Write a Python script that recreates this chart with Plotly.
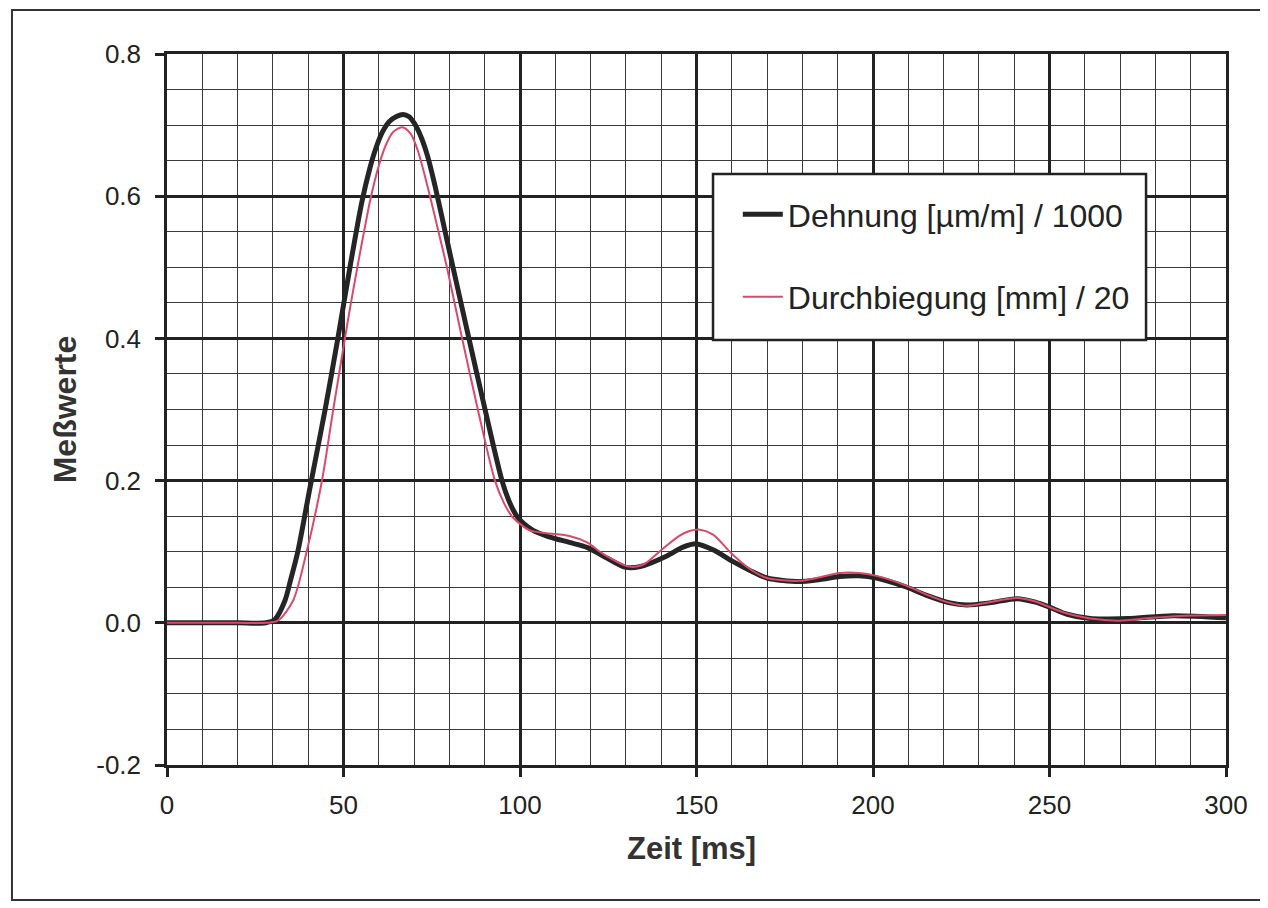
import plotly.graph_objects as go

# ---- data ----
t_dehnung = [0, 10, 20, 28, 30.6, 33.4, 35, 37.1, 40.5, 44.8, 48.4, 52, 55.2, 57.5, 59, 61, 63, 65, 66.9, 68.5,
             70, 72, 73.9, 75.9, 78.8, 80.7, 85.3, 90.1, 94.9, 97, 99.4, 103.7, 107.6, 114, 119, 125, 130, 134,
             141.6, 146, 150, 155, 160, 165, 170, 179, 185, 190.6, 196, 201, 209.6, 215, 221.8,
             226.6, 233, 240.8, 246, 250, 255, 261.5, 272, 285, 300]
dehnung = [0, 0, 0, 0, 0.005, 0.031, 0.06, 0.101, 0.19, 0.3, 0.4, 0.505, 0.592, 0.64, 0.665, 0.69, 0.705, 0.712, 0.715, 0.712,
           0.703, 0.683, 0.655, 0.615, 0.55, 0.507, 0.405, 0.3, 0.2, 0.17, 0.148, 0.13, 0.122, 0.113, 0.106, 0.09, 0.078, 0.079,
           0.094, 0.106, 0.111, 0.102, 0.087, 0.074, 0.063, 0.058, 0.061, 0.065, 0.066, 0.063, 0.05, 0.039, 0.028,
           0.025, 0.028, 0.034, 0.029, 0.022, 0.012, 0.006, 0.006, 0.01, 0.007]

t_durch = [0, 10, 20, 28, 31.4, 35.7, 39.6, 43.9, 47, 50.4, 52, 54, 56, 57.5, 60, 62, 64, 66.6, 69, 71,
           73.9, 77.3, 79.3, 83.6, 88.1, 92.9, 95.5, 98, 102.8, 107.6, 114, 119, 123.5, 131, 135, 139.7, 145,
           148, 151, 154.7, 160, 165, 170, 179, 185, 190.6, 196, 201, 209.6, 215, 221.8, 226.6, 233, 240.8,
           246, 250, 255, 261.5, 269.6, 279, 288.6, 300]
durchbiegung = [0, 0, 0, 0, 0.003, 0.031, 0.101, 0.2, 0.297, 0.4, 0.447, 0.502, 0.555, 0.593, 0.643, 0.672, 0.69, 0.697, 0.688, 0.665,
                0.612, 0.542, 0.5, 0.4, 0.299, 0.2, 0.168, 0.148, 0.13, 0.126, 0.122, 0.113, 0.097, 0.079, 0.082, 0.101, 0.122,
                0.129, 0.131, 0.124, 0.097, 0.076, 0.063, 0.059, 0.064, 0.07, 0.07, 0.066, 0.052, 0.04, 0.028, 0.024, 0.029, 0.035,
                0.03, 0.022, 0.013, 0.006, 0.003, 0.007, 0.01, 0.011]

x_ticks = [0, 50, 100, 150, 200, 250, 300]
y_ticks = [-0.2, 0.0, 0.2, 0.4, 0.6, 0.8]
y_ticklabels = ["-0.2", "0.0", "0.2", "0.4", "0.6", "0.8"]

name_dehnung = "Dehnung [µm/m] / 1000"
name_durch = "Durchbiegung [mm] / 20"

FONT = "Liberation Sans, Arial, sans-serif"

fig = go.Figure()
fig.add_trace(go.Scatter(x=t_dehnung, y=dehnung, mode="lines", name=name_dehnung,
                         line=dict(color="#252525", width=5, shape="spline", smoothing=0.8),
                         legendgroup="a"))
fig.add_trace(go.Scatter(x=t_durch, y=durchbiegung, mode="lines", name=name_durch,
                         line=dict(color="#d94a6a", width=2, shape="spline", smoothing=0.8),
                         legendgroup="b"))

axis_common = dict(showline=True, linecolor="#222", linewidth=2.5, mirror=True,
                   ticks="outside", ticklen=9, tickwidth=2.5, tickcolor="#222",
                   showgrid=True, gridcolor="#222", gridwidth=2.5,
                   zeroline=False,
                   tickfont=dict(family=FONT, size=26, color="#222"))

fig.update_xaxes(range=[0, 300], tickmode="array", tickvals=x_ticks,
                 minor=dict(dtick=10, tick0=0, showgrid=True, gridcolor="#3a3a3a", gridwidth=1.4, ticks=""),
                 ticklabelstandoff=6, **axis_common)
fig.update_yaxes(range=[-0.2, 0.8], tickmode="array", tickvals=y_ticks, ticktext=y_ticklabels,
                 minor=dict(dtick=0.05, tick0=0, showgrid=True, gridcolor="#3a3a3a", gridwidth=1.4, ticks=""),
                 ticklabelstandoff=9, **axis_common)

# legend box (covers grid like the original)
fig.add_shape(type="rect", xref="paper", yref="paper",
              x0=0.5156, x1=0.9245, y0=0.5977, y1=0.8312,
              fillcolor="white", line=dict(color="#222", width=2.5), layer="above")
# outer frame
fig.add_shape(type="rect", xref="paper", yref="paper",
              x0=-0.1464, x1=1.0359, y0=-0.19, y1=1.062,
              fillcolor="rgba(0,0,0,0)", line=dict(color="#333", width=2), layer="above")

fig.add_annotation(text="<b>Zeit [ms]</b>", xref="paper", yref="paper", x=0.495, y=-0.117,
                   showarrow=False, font=dict(family=FONT, size=31, color="#333"),
                   xanchor="center", yanchor="middle")
fig.add_annotation(text="<b>Meßwerte</b>", xref="paper", yref="paper", x=-0.0965, y=0.5,
                   showarrow=False, textangle=-90, font=dict(family=FONT, size=32, color="#333"),
                   xanchor="center", yanchor="middle")

fig.update_layout(
    width=1268, height=908,
    margin=dict(l=159, r=50, t=46, b=151),
    paper_bgcolor="white", plot_bgcolor="white",
    showlegend=True,
    legend=dict(x=0.539, y=0.813, xanchor="left", yanchor="top",
                bgcolor="rgba(0,0,0,0)", borderwidth=0,
                font=dict(family=FONT, size=32, color="#222"),
                tracegroupgap=38, itemwidth=40),
)

fig.write_html("out.html")
